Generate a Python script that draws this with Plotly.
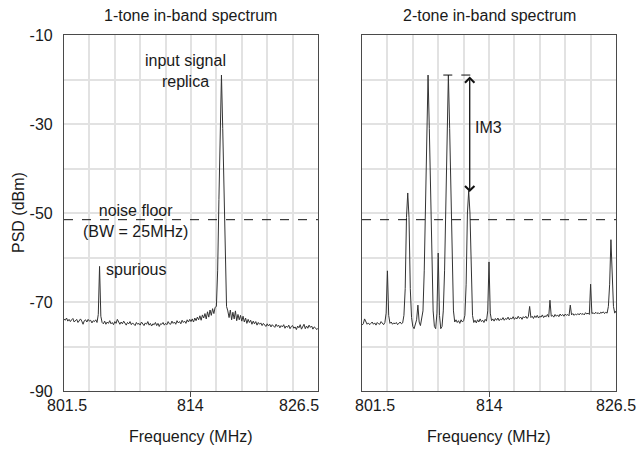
import numpy as np
import plotly.graph_objects as go

# ---- data ----
f_start, f_step, n_pts = 801.5, 0.125, 201
freq = [round(f_start + f_step * i, 3) for i in range(n_pts)]

psd_1tone = [
    -73.8, -74.1, -73.6, -74.3, -73.9, -74.4, -74.0, -73.7, -74.5, -74.2,
    -73.9, -74.6, -74.1, -73.8, -74.3, -75.0, -74.2, -74.0, -74.5, -73.9,
    -74.3, -74.1, -74.7, -74.2, -74.4, -74.0, -74.6, -72.8, -62.0, -73.2,
    -74.6, -74.9, -74.3, -75.0, -74.5, -74.8, -74.2, -74.9, -74.6, -75.1,
    -74.4, -74.8, -73.9, -74.7, -75.0, -74.5, -74.9, -74.3, -74.8, -75.2,
    -74.6, -74.9, -74.4, -75.1, -74.7, -74.9, -75.3, -74.6, -75.0, -74.8,
    -75.2, -74.5, -74.9, -75.3, -74.7, -75.0, -74.4, -75.2, -74.8, -75.4,
    -74.9, -75.1, -74.6, -75.3, -74.8, -75.5, -74.9, -75.0, -74.6, -75.2,
    -74.8, -75.1, -74.4, -74.9, -75.0, -74.3, -74.8, -74.5, -75.0, -74.2,
    -74.7, -74.4, -74.9, -74.1, -74.6, -74.3, -74.8, -74.0, -74.5, -73.9,
    -74.4, -73.8, -74.5, -73.6, -74.2, -73.4, -74.0, -73.1, -74.1, -72.9,
    -73.6, -72.6, -73.8, -72.2, -73.4, -71.8, -73.0, -71.5, -72.6, -71.2,
    -71.0, -63.0, -47.0, -31.0, -19.0, -31.0, -47.0, -63.0, -71.0, -72.0,
    -73.5, -71.8, -74.0, -72.3, -73.8, -72.0, -74.2, -72.8, -74.0, -73.0,
    -74.3, -73.2, -74.5, -73.6, -74.8, -73.9, -74.6, -74.1, -75.0, -74.3,
    -74.9, -74.4, -75.2, -74.6, -75.0, -74.7, -75.3, -74.8, -75.1, -75.5,
    -74.9, -75.4, -75.0, -75.6, -75.1, -75.3, -75.7, -75.0, -75.5, -75.2,
    -75.8, -75.3, -75.6, -75.1, -75.9, -75.4, -75.7, -75.2, -76.0, -75.5,
    -75.3, -75.9, -75.6, -76.2, -75.4, -75.8, -75.1, -76.1, -75.6, -75.0,
    -76.0, -75.4, -75.9, -75.2, -75.7, -75.4, -76.1, -75.6, -75.8, -76.2,
    -75.9,
]

psd_2tone = [
    -75.2, -74.9, -73.8, -74.6, -75.0, -74.7, -75.1, -74.8, -74.5, -75.0,
    -74.7, -75.2, -74.6, -74.9, -75.0, -74.4, -74.8, -75.1, -74.6, -72.5,
    -63.0, -73.0, -74.8, -74.5, -75.0, -74.7, -74.9, -74.6, -75.1, -74.8,
    -74.5, -74.9, -74.7, -73.0, -67.0, -51.0, -45.5, -51.0, -67.0, -73.5,
    -75.5, -76.0, -75.2, -74.0, -70.7, -74.5, -75.3, -74.0, -72.0, -63.0,
    -47.0, -31.0, -19.0, -31.0, -47.0, -63.0, -72.0, -75.5, -76.0, -72.5,
    -59.0, -73.0, -76.0, -75.5, -72.0, -63.0, -47.0, -31.0, -19.0, -31.0,
    -47.0, -63.0, -72.0, -74.5, -74.0, -74.6, -74.2, -74.8, -74.0, -74.5,
    -74.2, -73.0, -66.0, -50.0, -45.0, -50.0, -66.0, -73.0, -74.6, -74.1,
    -74.7, -74.0, -74.5, -73.8, -74.4, -74.1, -74.6, -73.9, -74.3, -72.0,
    -61.0, -72.5, -74.2, -73.8, -74.3, -73.7, -74.1, -73.6, -74.2, -73.8,
    -74.0, -73.5, -74.1, -73.7, -73.9, -73.4, -74.0, -73.6, -73.8, -73.3,
    -73.9, -73.5, -73.8, -73.2, -73.7, -73.4, -73.9, -73.3, -73.6, -73.2,
    -73.7, -73.3, -71.0, -73.5, -73.2, -73.7, -73.1, -73.5, -73.0, -73.6,
    -73.2, -73.4, -72.9, -73.5, -73.1, -73.3, -72.8, -73.4, -69.6, -73.2,
    -73.0, -73.4, -72.8, -73.2, -72.9, -73.3, -72.7, -73.1, -72.8, -73.2,
    -72.7, -73.0, -72.8, -73.1, -70.7, -72.9, -72.6, -73.0, -72.7, -72.9,
    -72.6, -72.9, -72.5, -72.8, -72.6, -72.9, -72.4, -72.7, -72.5, -72.8,
    -66.0, -72.6, -72.4, -72.7, -72.3, -72.6, -72.4, -72.7, -72.3, -72.5,
    -72.2, -72.6, -72.3, -72.5, -71.0, -66.0, -56.0, -66.5, -71.0, -72.5,
    -72.0,
]

noise_floor = -51.5
x_tick_vals = [801.5, 814, 826.5]
x_tick_text = ["801.5", "814", "826.5"]
y_tick_vals = [-10, -20, -30, -40, -50, -60, -70, -80, -90]
y_tick_text = ["-10", "", "-30", "", "-50", "", "-70", "", "-90"]
titles = ["1-tone in-band spectrum", "2-tone in-band spectrum"]
im3_top, im3_bottom, im3_freq = -19.0, -45.3, 812.1

# ---- figure ----
FONT = "Liberation Sans, Arial, Helvetica, sans-serif"
TXT = "#1a1a1a"
GRID = "#e2e2e2"
FRAME = "#4a4a4a"

fig = go.Figure()
fig.add_trace(go.Scatter(x=freq, y=psd_1tone, mode="lines",
                         line=dict(color="#333333", width=1), xaxis="x", yaxis="y",
                         showlegend=False))
fig.add_trace(go.Scatter(x=freq, y=psd_2tone, mode="lines",
                         line=dict(color="#333333", width=1), xaxis="x2", yaxis="y2",
                         showlegend=False))

xcommon = dict(range=[801.5, 826.5], tickmode="array", tickvals=[x_tick_vals[1]],
               ticktext=[""], ticks="outside", ticklen=5, tickcolor=FRAME,
               showgrid=True, gridcolor=GRID, gridwidth=1.5,
               minor=dict(tick0=801.5, dtick=2.5, showgrid=True, gridcolor=GRID,
                          gridwidth=1.5, ticks=""),
               showline=True, mirror=True, linecolor=FRAME, linewidth=1.2,
               zeroline=False, automargin=False)
ycommon = dict(range=[-90, -10], tickmode="array", tickvals=y_tick_vals,
               ticktext=y_tick_text, ticks="outside", ticklen=7,
               tickcolor="rgba(0,0,0,0)", showgrid=True, gridcolor=GRID, gridwidth=1.5,
               showline=True, mirror=True, linecolor=FRAME, linewidth=1.2,
               zeroline=False, automargin=False)

fig.update_layout(
    width=638, height=452,
    margin=dict(l=64, r=22, t=35, b=61, autoexpand=False),
    paper_bgcolor="white", plot_bgcolor="white",
    font=dict(family=FONT, size=16, color=TXT),
    xaxis=dict(domain=[0, 0.4601], anchor="y", **xcommon),
    xaxis2=dict(domain=[0.5399, 1], anchor="y2", **xcommon),
    yaxis=dict(domain=[0, 1], anchor="x", tickfont=dict(size=16, color=TXT), **ycommon),
    yaxis2=dict(domain=[0, 1], anchor="x2", showticklabels=False, **ycommon),
)

shapes = [
    dict(type="line", xref="x", yref="y", x0=801.5, x1=826.5, y0=noise_floor, y1=noise_floor,
         line=dict(color="#111", width=1, dash="dash")),
    dict(type="line", xref="x2", yref="y2", x0=801.5, x1=826.5, y0=noise_floor, y1=noise_floor,
         line=dict(color="#111", width=1, dash="dash")),
    dict(type="line", xref="x2", yref="y2", x0=809.5, x1=812.6, y0=im3_top, y1=im3_top,
         line=dict(color="#111", width=1, dash="dash")),
]
fig.update_layout(shapes=shapes)

ann = []
# titles
ann.append(dict(text=titles[0], x=0.23, y=1.056, xref="paper", yref="paper",
                showarrow=False, font=dict(size=16), xanchor="center", yanchor="middle"))
ann.append(dict(text=titles[1], x=0.77, y=1.056, xref="paper", yref="paper",
                showarrow=False, font=dict(size=16), xanchor="center", yanchor="middle"))
# x tick labels (placed like the reference)
tick_y = -0.04
ann.append(dict(text=x_tick_text[0], x=801.8, y=tick_y, xref="x", yref="paper",
                showarrow=False, xanchor="center", yanchor="middle"))
ann.append(dict(text=x_tick_text[1], x=814, y=tick_y, xref="x", yref="paper",
                showarrow=False, xanchor="center", yanchor="middle"))
ann.append(dict(text=x_tick_text[2], x=826.5, y=tick_y, xref="x", yref="paper",
                showarrow=False, xanchor="right", yanchor="middle", xshift=3))
ann.append(dict(text=x_tick_text[0], x=802.8, y=tick_y, xref="x2", yref="paper",
                showarrow=False, xanchor="center", yanchor="middle"))
ann.append(dict(text=x_tick_text[1], x=814, y=tick_y, xref="x2", yref="paper",
                showarrow=False, xanchor="center", yanchor="middle"))
ann.append(dict(text=x_tick_text[2], x=826.5, y=tick_y, xref="x2", yref="paper",
                showarrow=False, xanchor="center", yanchor="middle"))
# axis titles
for xc in (0.23, 0.77):
    ann.append(dict(text="Frequency (MHz)", x=xc, y=-0.129, xref="paper", yref="paper",
                    showarrow=False, font=dict(size=16), xanchor="center", yanchor="middle"))
ann.append(dict(text="PSD (dBm)", x=-0.0833, y=0.5, xref="paper", yref="paper",
                showarrow=False, textangle=-90, font=dict(size=16),
                xanchor="center", yanchor="middle"))
# labels in left panel
ann.append(dict(text="input signal<br>replica", x=813.5, y=-18.2, xref="x", yref="y",
                showarrow=False, align="center", font=dict(size=16),
                xanchor="center", yanchor="middle"))
ann.append(dict(text="noise floor<br>(BW = 25MHz)", x=808.5, y=-51.9, xref="x", yref="y",
                showarrow=False, align="center", font=dict(size=16),
                xanchor="center", yanchor="middle"))
ann.append(dict(text="spurious", x=805.44, y=-62.8, xref="x", yref="y",
                showarrow=False, font=dict(size=16), xanchor="left", yanchor="middle"))
# IM3
ann.append(dict(text="IM3", x=812.43, y=-30.7, xref="x2", yref="y2",
                showarrow=False, font=dict(size=16), xanchor="left", yanchor="middle"))
ann.append(dict(text="", x=im3_freq, y=im3_bottom, xref="x2", yref="y2",
                ax=im3_freq, ay=im3_top, axref="x2", ayref="y2",
                showarrow=True, arrowside="end+start", arrowhead=4, startarrowhead=4,
                arrowsize=1.4, startarrowsize=1.4, arrowwidth=1.3, arrowcolor="#111"))
fig.update_layout(annotations=ann)

fig.write_html("out.html", config={"displayModeBar": False},
               post_script="document.body.style.margin='0';document.body.style.padding='0';")
